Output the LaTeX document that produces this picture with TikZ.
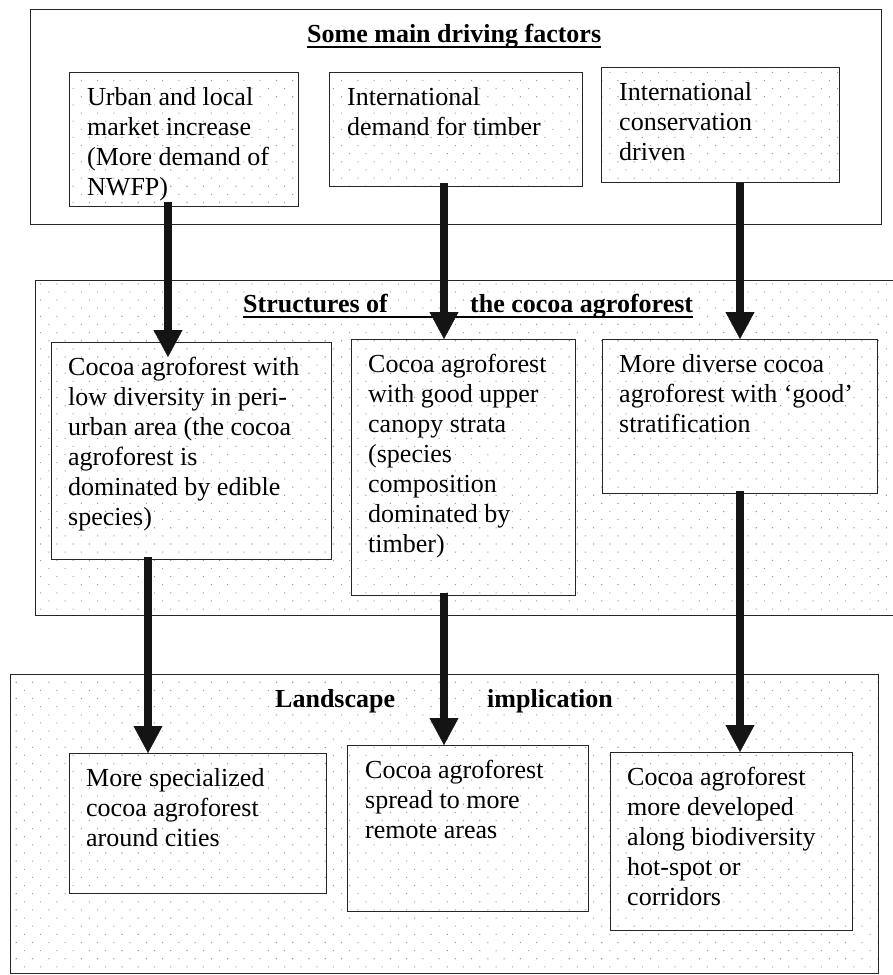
\documentclass[tikz,border=0pt]{standalone}
\usepackage{fontspec}
\setmainfont{Liberation Serif}
\usetikzlibrary{arrows.meta,patterns.meta,calc}
\begin{document}
\begin{tikzpicture}[x=1pt,y=-1pt,
  bxline/.style={draw=black!85, line width=1.3pt, inner sep=0pt, anchor=north west},
  plainbox/.style={bxline, fill=white},
  dotbox/.style={bxline, preaction={fill=white}, pattern={Dots[distance=11.5pt,angle=45,radius=0.75pt]}, pattern color=black!38},
  txt/.style={align=left, inner sep=0pt, anchor=north west, font=\fontsize{26}{30}\selectfont},
  ttl/.style={inner sep=0pt, anchor=base west, font=\fontsize{26}{30}\selectfont\bfseries},
  uline/.style={draw=black, line width=2pt},
  arr/.style={draw=black!92, line width=8.5pt, -{Triangle[length=27pt,width=29pt,line width=0.4pt]}}]
\useasboundingbox (0,0) rectangle (893,975);
\clip (0,0) rectangle (893,975);
% outer frames
\node[plainbox, minimum width=851pt, minimum height=215pt] (topf) at (30,9) {};
\node[dotbox, minimum width=880pt, minimum height=335pt] (midf) at (35,280) {};
\node[dotbox, minimum width=868pt, minimum height=299pt] (botf) at (10,674) {};
% titles
\node[ttl] (tt) at (307,42) {Some main driving factors};
\draw[uline] ([yshift=-5pt]tt.base west) -- ([yshift=-5pt]tt.base east);
\node[ttl] (ms1) at (243,312) {Structures of};
\node[ttl] (ms2) at (470,312) {the cocoa agroforest};
\draw[uline] ([yshift=-5pt]ms1.base west) -- ([yshift=-5pt]ms2.base east);
\node[ttl] (bt1) at (275,707) {Landscape};
\node[ttl] (bt2) at (487,707) {implication};
% inner boxes
\node[dotbox, minimum width=229pt, minimum height=134pt] (b1) at (69,72) {};
\node[dotbox, minimum width=253pt, minimum height=114pt] (b2) at (329,72) {};
\node[dotbox, minimum width=238pt, minimum height=115pt] (b3) at (601,67) {};
\node[dotbox, minimum width=280pt, minimum height=217pt] (b4) at (51,342) {};
\node[dotbox, minimum width=224pt, minimum height=256pt] (b5) at (351,339) {};
\node[dotbox, minimum width=275pt, minimum height=154pt] (b6) at (602,339) {};
\node[dotbox, minimum width=257pt, minimum height=140pt] (b7) at (69,753) {};
\node[dotbox, minimum width=241pt, minimum height=166pt] (b8) at (347,745) {};
\node[dotbox, minimum width=242pt, minimum height=178pt] (b9) at (610,752) {};
% texts
\node[txt] (t1) at (87,85) {\rule{0pt}{20pt}Urban and local\\market increase\\(More demand of\\NWFP)};
\node[txt] (t2) at (347,85) {\rule{0pt}{20pt}International\\demand for timber};
\node[txt] (t3) at (619,80) {\rule{0pt}{20pt}International\\conservation\\driven};
\node[txt] (t4) at (68,355) {\rule{0pt}{20pt}Cocoa agroforest with\\low diversity in peri-\\urban area (the cocoa\\agroforest is\\dominated by edible\\species)};
\node[txt] (t5) at (368,352) {\rule{0pt}{20pt}Cocoa agroforest\\with good upper\\canopy strata\\(species\\composition\\dominated by\\timber)};
\node[txt] (t6) at (619,352) {\rule{0pt}{20pt}More diverse cocoa\\agroforest with ‘good’\\stratification};
\node[txt] (t7) at (86,766) {\rule{0pt}{20pt}More specialized\\cocoa agroforest\\around cities};
\node[txt] (t8) at (365,758) {\rule{0pt}{20pt}Cocoa agroforest\\spread to more\\remote areas};
\node[txt] (t9) at (627,765) {\rule{0pt}{20pt}Cocoa agroforest\\more developed\\along biodiversity\\hot-spot or\\corridors};
% arrow columns
\coordinate (xa) at (168,0);
\coordinate (xb) at (444,0);
\coordinate (xc) at (740,0);
\coordinate (xd) at (148,0);
\draw[arr] ($(b1.south -| xa)+(0,-5)$) -- ($(b4.north -| xa)+(0,15)$);
\draw[arr] ($(b2.south -| xb)+(0,-4)$) -- (b5.north -| xb);
\draw[arr] (b3.south -| xc) -- (b6.north -| xc);
\draw[arr] ($(b4.south -| xd)+(0,-3)$) -- (b7.north -| xd);
\draw[arr] ($(b5.south -| xb)+(0,-3)$) -- (b8.north -| xb);
\draw[arr] ($(b6.south -| xc)+(0,-3)$) -- (b9.north -| xc);
\end{tikzpicture}
\end{document}
